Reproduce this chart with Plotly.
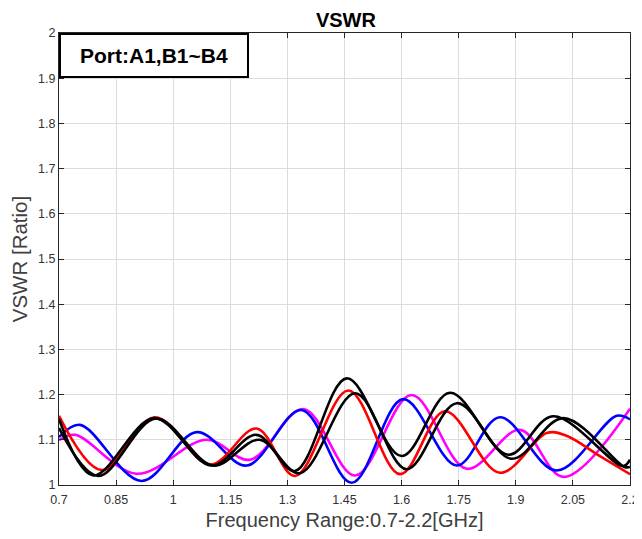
import plotly.graph_objects as go

# frequency (GHz) / VSWR values
red_f = [0.70, 0.812, 0.952, 1.097, 1.219, 1.32, 1.46, 1.596, 1.714, 1.858, 1.981, 2.03, 2.121, 2.2]
red_v = [1.153, 1.033, 1.150, 1.045, 1.125, 1.020, 1.209, 1.024, 1.163, 1.027, 1.115, 1.110, 1.064, 1.024]

blk1_f = [0.70, 0.79, 0.95, 1.10, 1.219, 1.32, 1.456, 1.60, 1.727, 1.88, 1.998, 2.182, 2.2]
blk1_v = [1.146, 1.021, 1.148, 1.043, 1.111, 1.031, 1.236, 1.064, 1.204, 1.067, 1.152, 1.042, 1.056]

blk2_f = [0.70, 0.803, 0.955, 1.105, 1.226, 1.333, 1.478, 1.613, 1.745, 1.889, 2.025, 2.185, 2.2]
blk2_v = [1.126, 1.020, 1.147, 1.043, 1.100, 1.026, 1.203, 1.035, 1.181, 1.058, 1.148, 1.040, 1.040]

blue_f = [0.70, 0.755, 0.917, 1.062, 1.193, 1.337, 1.469, 1.604, 1.745, 1.858, 2.007, 2.165, 2.2]
blue_v = [1.106, 1.133, 1.009, 1.117, 1.043, 1.166, 1.005, 1.190, 1.043, 1.150, 1.032, 1.153, 1.145]

mag_f = [0.70, 0.742, 0.904, 1.088, 1.202, 1.342, 1.478, 1.626, 1.771, 1.911, 2.025, 2.2]
mag_v = [1.099, 1.111, 1.025, 1.100, 1.056, 1.168, 1.021, 1.199, 1.036, 1.122, 1.018, 1.169]

x_ticks = [0.7, 0.85, 1, 1.15, 1.3, 1.45, 1.6, 1.75, 1.9, 2.05, 2.2]
x_labels = ["0.7", "0.85", "1", "1.15", "1.3", "1.45", "1.6", "1.75", "1.9", "2.05", "2.2"]
y_ticks = [1, 1.1, 1.2, 1.3, 1.4, 1.5, 1.6, 1.7, 1.8, 1.9, 2]
y_labels = ["1", "1.1", "1.2", "1.3", "1.4", "1.5", "1.6", "1.7", "1.8", "1.9", "2"]

series = [
    (mag_f, mag_v, "#FF00FF"),
    (blue_f, blue_v, "#0000FF"),
    (red_f, red_v, "#FF0000"),
    (blk2_f, blk2_v, "#000000"),
    (blk1_f, blk1_v, "#000000"),
]

fig = go.Figure()
for f, v, c in series:
    fig.add_trace(go.Scatter(x=f, y=v, mode="lines",
                             line=dict(color=c, width=2.6, shape="spline", smoothing=1.0),
                             showlegend=False))

FONT = "Liberation Sans, Arial"

axis_common = dict(
    showline=True, linecolor="#262626", linewidth=1.2, mirror="ticks",
    ticks="inside", ticklen=5, tickcolor="#262626",
    showgrid=True, gridcolor="#DCDCDC", gridwidth=1,
    zeroline=False, automargin=False,
    tickfont=dict(family=FONT, size=12.5, color="#333333"),
)

# page body adds an 8px offset, so the figure is sized to fit the window
fig.update_layout(
    width=634, height=531,
    paper_bgcolor="white", plot_bgcolor="white",
    margin=dict(l=51, r=12, t=25, b=54),
    title=dict(text="<b>VSWR</b>", x=0.533, xanchor="center", y=0.978, yanchor="middle",
               font=dict(family=FONT, size=20, color="#000000")),
    xaxis=dict(range=[0.7, 2.2], tickvals=x_ticks, ticktext=x_labels,
               ticklabelstandoff=3,
               title=dict(text="Frequency Range:0.7-2.2[GHz]", standoff=6,
                          font=dict(family=FONT, size=20, color="#404040")),
               **axis_common),
    yaxis=dict(range=[1, 2], tickvals=y_ticks, ticktext=y_labels,
               title=dict(text="VSWR [Ratio]", standoff=8,
                          font=dict(family=FONT, size=20.5, color="#404040")),
               **axis_common),
)

# port label box
fig.add_annotation(
    xref="paper", yref="paper", x=0.0, y=1.0, xanchor="left", yanchor="top",
    text="<b>Port:A1,B1~B4</b>", showarrow=False,
    font=dict(family=FONT, size=21, color="#000000"),
    bgcolor="white", bordercolor="#000000", borderwidth=2,
    width=184, height=39, align="center",
)

fig.write_html("out.html")
